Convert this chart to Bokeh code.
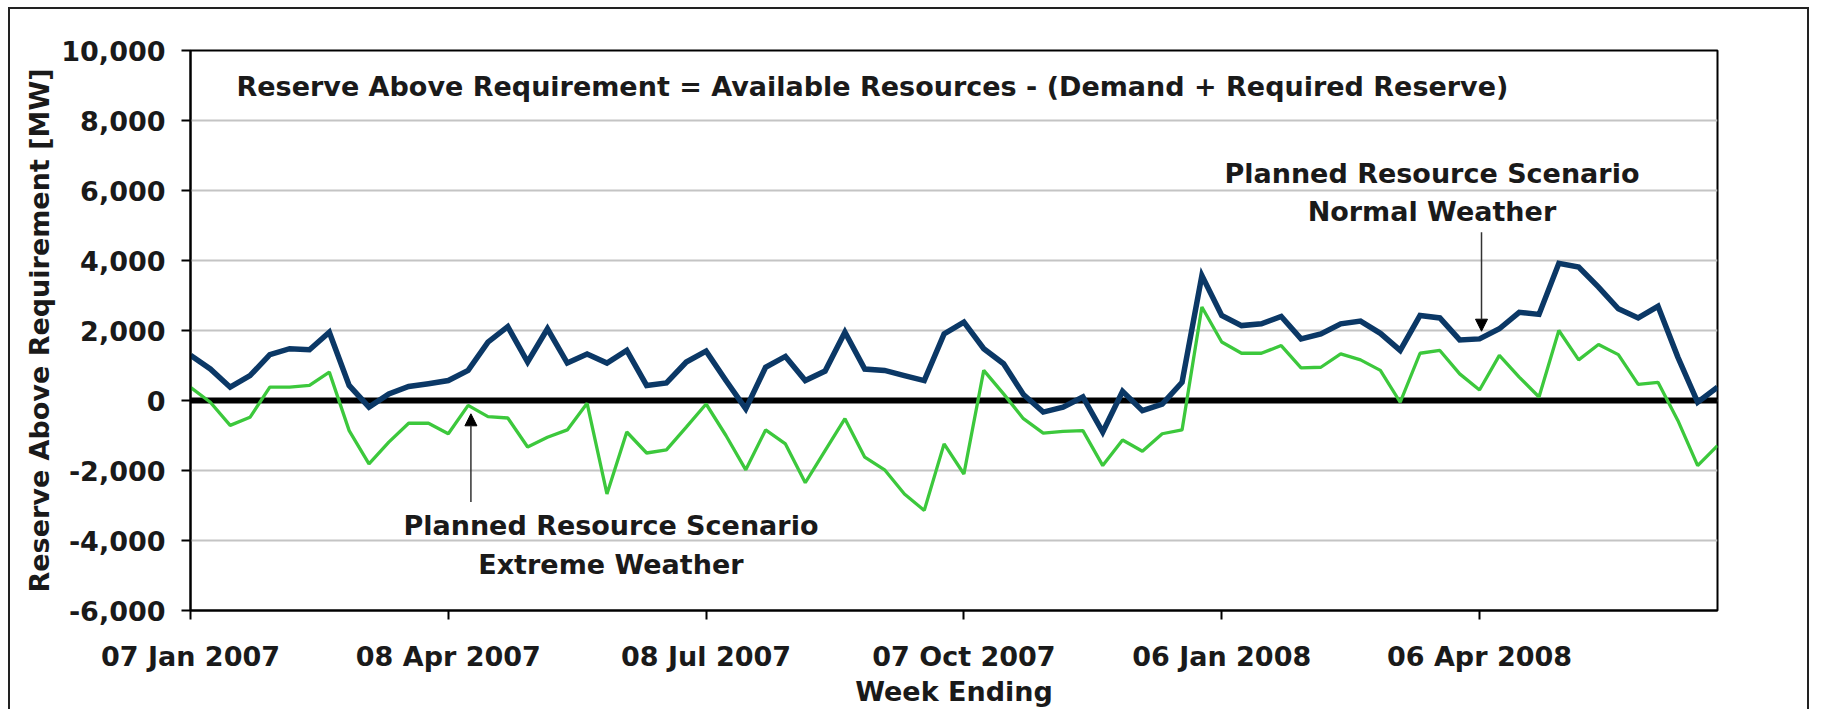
import pandas as pd
from bokeh.plotting import figure
from bokeh.models import (Range1d, FixedTicker, DatetimeTickFormatter, NumeralTickFormatter,
                          Span, Label, Arrow, NormalHead)
from bokeh.embed import file_html
from bokeh.resources import INLINE

# ---------------- data ----------------
start_week = "2007-01-07"
n_weeks = 78
normal_weather = [1290, 900, 380, 710, 1310, 1480, 1450, 1950, 430, -190, 190, 400, 480, 570, 860, 1670,
                  2110, 1100, 2050, 1070, 1330, 1070, 1430, 430, 500, 1100, 1410, 570, -240, 950, 1260, 570,
                  840, 1950, 900, 860, 710, 570, 1900, 2240, 1480, 1050, 170, -330, -190, 100, -900, 260,
                  -290, -100, 520, 3570, 2430, 2140, 2190, 2400, 1760, 1900, 2190, 2270, 1920, 1430, 2430, 2360,
                  1730, 1760, 2050, 2520, 2460, 3920, 3810, 3240, 2620, 2360, 2690, 1240, -50, 380]
extreme_weather = [380, -50, -710, -480, 380, 380, 430, 810, -860, -1810, -1190, -650, -650, -950, -140, -460,
                   -500, -1330, -1050, -840, -80, -2670, -900, -1500, -1410, -760, -100, -1000, -1980, -840, -1240, -2350,
                   -1430, -520, -1620, -1980, -2670, -3140, -1240, -2100, 860, 190, -520, -930, -880, -860, -1860, -1130,
                   -1450, -950, -840, 2670, 1670, 1350, 1350, 1570, 930, 950, 1330, 1160, 860, -50, 1350, 1430,
                   760, 300, 1290, 670, 100, 2000, 1160, 1600, 1310, 460, 520, -570, -1860, -1290]
x_tick_dates = ["2007-01-07", "2007-04-08", "2007-07-08", "2007-10-07", "2008-01-06", "2008-04-06"]
y_ticks = [-6000, -4000, -2000, 0, 2000, 4000, 6000, 8000, 10000]

weeks = pd.date_range(start_week, periods=n_weeks, freq="7D")
t0 = weeks[0]


def wk(w):
    return t0 + pd.Timedelta(days=7 * w)


FONT = "DejaVu Sans"
FS = "27px"
TXT = "#1a1a1a"
BLUE = "#0B3866"
GREEN = "#3CC83C"

W, H = 1801, 702
p = figure(width=W, height=H, x_axis_type="datetime", output_backend="svg", toolbar_location=None,
           x_range=Range1d(weeks[0], weeks[-1]), y_range=Range1d(-6000, 10000),
           min_border_left=180, min_border_right=W - 1707, min_border_top=41, min_border_bottom=H - 601)
p.styles = {"border-top": "2px solid #222", "border-left": "2px solid #222",
            "border-right": "2px solid #222", "margin-left": "8px", "margin-top": "7px"}

p.outline_line_color = "black"
p.outline_line_width = 2
p.xgrid.visible = False
p.ygrid.grid_line_color = "#C4C4C4"
p.ygrid.grid_line_width = 2
p.ygrid.ticker = FixedTicker(ticks=y_ticks)

p.yaxis.ticker = FixedTicker(ticks=y_ticks)
p.yaxis.formatter = NumeralTickFormatter(format="0,0")
p.xaxis.ticker = FixedTicker(ticks=[pd.Timestamp(d).value / 1e6 for d in x_tick_dates])
fmt = "%d %b %Y"
p.xaxis.formatter = DatetimeTickFormatter(microseconds=fmt, milliseconds=fmt, seconds=fmt, minsec=fmt,
                                          minutes=fmt, hourmin=fmt, hours=fmt, days=fmt, months=fmt, years=fmt)

for ax in (p.xaxis[0], p.yaxis[0]):
    ax.axis_line_color = "black"
    ax.axis_line_width = 2
    ax.major_tick_line_color = "black"
    ax.major_tick_line_width = 2
    ax.major_tick_out = 9
    ax.major_tick_in = 0
    ax.minor_tick_line_color = None
    ax.major_label_text_font = FONT
    ax.major_label_text_font_style = "bold"
    ax.major_label_text_font_size = FS
    ax.major_label_text_color = TXT
    ax.axis_label_text_font = FONT
    ax.axis_label_text_font_style = "bold"
    ax.axis_label_text_font_size = FS
    ax.axis_label_text_color = TXT

p.yaxis.axis_label = "Reserve Above Requirement [MW]"
p.xaxis.axis_label = "Week Ending"
p.yaxis.major_label_standoff = 16
p.yaxis.axis_label_standoff = 3
p.xaxis.major_label_standoff = 21
p.xaxis.axis_label_standoff = 1

p.add_layout(Span(location=0, dimension="width", line_color="black", line_width=6, level="underlay"))

p.line(weeks, extreme_weather, line_color=GREEN, line_width=3.3)
p.line(weeks, normal_weather, line_color=BLUE, line_width=5.5, line_join="miter")


def lab(x, y, text, align="center"):
    p.add_layout(Label(x=x, y=y, text=text, text_font=FONT, text_font_style="bold",
                       text_font_size=FS, text_color=TXT, text_align=align, text_baseline="middle"))


lab(wk(2.32), 8970, "Reserve Above Requirement = Available Resources - (Demand + Required Reserve)", "left")
lab(wk(62.6), 6490, "Planned Resource Scenario")
lab(wk(62.6), 5400, "Normal Weather")
lab(wk(21.2), -3570, "Planned Resource Scenario")
lab(wk(21.2), -4690, "Extreme Weather")

p.add_layout(Arrow(x_start=wk(65.1), y_start=4810, x_end=wk(65.1), y_end=1980,
                   line_color="#333333", line_width=1.5,
                   end=NormalHead(size=12, fill_color="black", line_color="black")))
p.add_layout(Arrow(x_start=wk(14.14), y_start=-2900, x_end=wk(14.14), y_end=-380,
                   line_color="#333333", line_width=1.5,
                   end=NormalHead(size=12, fill_color="black", line_color="black")))

open("out.html", "w").write(file_html(p, INLINE))
